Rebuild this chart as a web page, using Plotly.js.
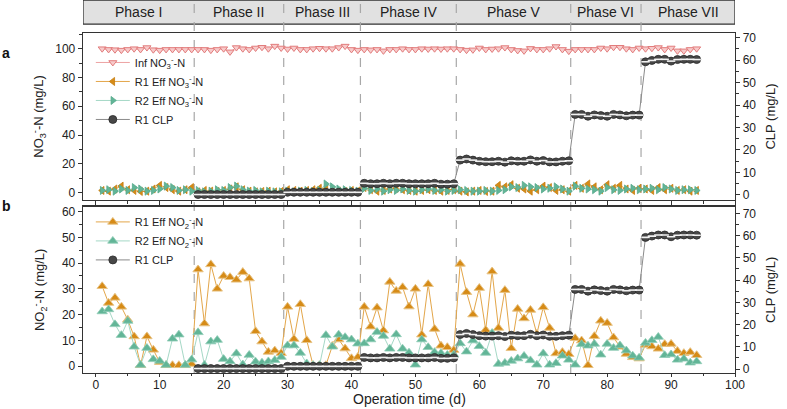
<!DOCTYPE html>
<html><head><meta charset="utf-8">
<script src="https://cdn.plot.ly/plotly-3.0.1.min.js"></script>
<style>html,body{margin:0;padding:0;background:#fff}#chart{width:787px;height:409px}</style>
</head><body><div id="chart"></div>
<script>
const days = [1,2,3,4,5,6,7,8,9,10,11,12,13,14,15,16,17,18,19,20,21,22,23,24,25,26,27,28,29,30,31,32,33,34,35,36,37,38,39,40,41,42,43,44,45,46,47,48,49,50,51,52,53,54,55,56,57,58,59,60,61,62,63,64,65,66,67,68,69,70,71,72,73,74,75,76,77,78,79,80,81,82,83,84,85,86,87,88,89,90,91,92,93,94];
const clpDays = [16,17,18,19,20,21,22,23,24,25,26,27,28,29,30,31,32,33,34,35,36,37,38,39,40,41,42,43,44,45,46,47,48,49,50,51,52,53,54,55,56,57,58,59,60,61,62,63,64,65,66,67,68,69,70,71,72,73,74,75,76,77,78,79,80,81,82,83,84,85,86,87,88,89,90,91,92,93,94];

const infNO3 = [100,99.5,99.3,99,99.5,100,99.5,100.8,99.3,99,99.5,99.5,99.5,99.5,99.5,
  99.5,99.5,99,99.5,100,97.8,100.8,100,99.5,100.5,101,100,101.8,100.5,
  99.8,100.5,99.5,99.5,100,100.3,100,100,100.8,101.8,99.5,99,
  99.5,99.2,99.5,98.5,99.5,99.5,100,99.5,99.5,100,99.8,100,99.8,100,100,
  99.5,99,99.2,100.5,99.5,99.8,100,100.8,99.5,98.8,98.5,100.2,99.5,99.5,100,101.5,99.5,98.3,
  99.5,99.5,99.5,99.5,100.5,100,101,101,100,99.5,100.5,
  100,100.3,100.8,99.5,100.5,98.5,98.5,99.5,100];
const r1NO3 = [1.5,1.0,2.5,4.5,2.0,1.5,0.8,1.0,2.5,5.0,3.5,2.0,1.0,2.0,3.5,
  0.5,1.5,1.0,0.8,1.5,2.5,4.0,2.0,1.0,0.5,0.8,1.0,0.5,0.8,
  2.0,1.5,1.0,1.5,2.0,3.0,2.5,1.5,1.0,0.8,1.5,1.0,
  3.5,2.0,1.0,1.5,2.5,3.0,2.0,1.5,1.0,1.5,2.0,1.5,1.0,1.5,2.0,
  1.0,0.5,1.0,1.5,0.8,1.0,5.0,4.0,5.5,3.0,2.5,1.0,2.0,4.5,3.5,1.5,2.0,1.0,
  5.0,3.0,6.0,4.0,2.0,5.5,3.0,5.0,2.5,1.5,3.0,
  2.5,1.5,3.5,2.0,3.0,1.5,2.0,1.0,1.5];
const r2NO3 = [1.5,2.0,1.0,2.5,1.5,3.5,2.5,1.0,1.5,2.5,4.5,3.5,1.5,2.0,1.0,
  1.5,0.5,1.0,2.0,1.5,3.5,4.5,2.0,1.0,1.5,0.5,1.0,0.5,0.5,
  1.0,0.5,1.0,1.5,0.8,1.5,6.0,4.0,2.5,2.0,1.5,1.0,
  3.0,1.5,2.5,1.0,2.0,1.5,2.5,1.5,1.0,2.0,2.5,1.5,2.0,1.0,1.5,
  2.0,1.5,1.0,1.0,1.5,1.0,1.5,2.0,4.0,3.5,5.0,4.0,3.5,2.5,3.0,4.0,2.5,1.0,
  4.5,3.0,2.5,2.0,1.0,3.5,2.0,1.5,2.5,3.0,2.0,
  2.5,3.0,2.0,3.5,2.5,1.5,2.0,2.0,1.5];
const r1NO2 = [31,24.5,26.5,23,18,11.5,0.3,11.5,6.3,1.5,0.3,0.3,0.3,0.3,0.8,
  37.5,16.5,39.5,30,35,34.5,33.5,36.5,34,13.5,9.5,5.5,6,5,
  23,10.5,24,10,0.3,0.3,0.3,7.8,10.3,6.8,3,3.5,
  23,15.3,22.7,13.8,32.7,29.2,30.6,23.1,30,12.2,31.8,14.4,7.9,7.3,6.2,
  39.7,28.7,20,30.3,14,36.7,14.8,29.5,6.9,22.2,18.5,21.8,12.5,22.8,14.8,4.9,5.4,4.6,
  10.8,9.9,0.3,11.6,17.6,16.7,11.1,7.5,4.7,3.4,2.9,
  8.2,7.6,6.7,8.5,8.6,5.8,5.0,5.4,4.2];
const r2NO2 = [21.2,22,16.2,12,17.5,7.5,0.4,7,2.6,2,0.4,10.6,12.2,0.4,2.5,
  13.1,0.4,9.5,10.1,2.7,1.8,4.9,0.6,4.3,1.7,1.3,1.8,2.3,3.5,
  8,8,5.1,1,0.3,0.3,12,7.5,12.2,11.2,10.3,8.7,
  8.8,10.3,13.2,11.7,6.7,12.3,6.7,5.2,0.5,10.3,7.3,5.4,5.0,4.3,4.4,
  8.8,5.6,9.9,7.7,5.1,12.8,0.8,1.2,2.0,2.9,3.9,2.2,0.5,4.9,0.5,1.1,4.0,2.4,
  0.5,8.5,7.9,8.6,4.4,8.6,7.0,8.0,6.0,4.0,3.2,
  9.0,10.0,11.3,4.2,4.5,2.4,2.8,1.3,1.8];
const clp = [0.2,0.2,0.2,0.2,0.2,0.2,0.2,0.2,0.2,0.2,0.2,0.2,0.2,0.2,
  1.2,1.2,1.2,1.2,1.2,1.2,1.2,1.2,1.2,1.2,1.2,1.2,
  5.2,5.0,5.0,5.2,5.0,5.2,5.2,5.0,5.0,5.0,5.0,5.2,4.8,4.8,5.0,
  15.5,16.0,15.5,15.0,14.8,14.8,15.0,14.6,15.2,15.0,15.0,15.6,15.0,15.3,14.7,14.7,15.0,15.2,
  35.8,35.8,35.0,35.6,35.3,35.0,35.8,35.6,35.2,35.5,35.5,
  59.2,59.8,60.3,60.3,59.5,60.2,60.3,60.3,60.2];

const phaseNames = ['Phase I','Phase II','Phase III','Phase IV','Phase V','Phase VI','Phase VII'];
const phaseBounds = [15.4,29.4,41.4,56.4,74.3,85.3];
const xTickVals = [0,10,20,30,40,50,60,70,80,90,100];

const FONT = 'Liberation Sans, Arial, sans-serif';
const XMIN = -2, XMAX = 100;
const BAR_Y0 = 1.026, BAR_Y1 = 1.097;

const orange = '#d68b17', orangeLine = '#e3a64a';
const teal = '#62b597', tealLine = '#a5d8c6';
const pink = '#e27c7c', pinkLine = '#eda3a3';
const clpCol = '#474747';

function clpTraces(xa, ya, legend, show) {
  return [
    {x: clpDays, y: clp, xaxis: xa, yaxis: ya, type: 'scatter', mode: 'lines+markers', name: 'R1 CLP',
     legend: legend, showlegend: show,
     line: {color: '#8a8a8a', width: 1},
     marker: {symbol: 'circle', size: 8, color: clpCol, line: {color: '#2a2a2a', width: 0.8}}},
    {x: clpDays, y: clp, xaxis: xa, yaxis: ya, type: 'scatter', mode: 'markers', showlegend: false, hoverinfo: 'skip',
     marker: {symbol: 'line-ew', size: 6, color: '#ffffff', line: {color: '#f2f2f2', width: 1.6}}}
  ];
}

const data = [
  {x: days, y: infNO3, xaxis: 'x2', yaxis: 'y', type: 'scatter', mode: 'lines+markers',
   name: 'Inf NO<sub>3</sub><sup>-</sup>-N', legend: 'legend',
   line: {color: pinkLine, width: 1},
   marker: {symbol: 'triangle-down', size: 7, color: '#f7caca', line: {color: pink, width: 1}}},
  {x: days, y: r1NO3, xaxis: 'x2', yaxis: 'y', type: 'scatter', mode: 'lines+markers',
   name: 'R1 Eff NO<sub>3</sub><sup>-</sup>-N', legend: 'legend',
   line: {color: orangeLine, width: 1},
   marker: {symbol: 'triangle-left', size: 7, color: orange, line: {color: '#c57d10', width: 0.8}}},
  {x: days, y: r2NO3, xaxis: 'x2', yaxis: 'y', type: 'scatter', mode: 'lines+markers',
   name: 'R2 Eff NO<sub>3</sub><sup>-</sup>-N', legend: 'legend',
   line: {color: tealLine, width: 1},
   marker: {symbol: 'triangle-right', size: 7, color: teal, line: {color: '#56a98b', width: 0.8}}},
  ...clpTraces('x2', 'y3', 'legend', true),
  {x: days, y: r1NO2, xaxis: 'x', yaxis: 'y2', type: 'scatter', mode: 'lines+markers',
   name: 'R1 Eff NO<sub>2</sub><sup>-</sup>-N', legend: 'legend2',
   line: {color: orangeLine, width: 1},
   marker: {symbol: 'triangle-up', size: 9, color: orange, line: {color: '#e8c486', width: 1}}},
  {x: days, y: r2NO2, xaxis: 'x', yaxis: 'y2', type: 'scatter', mode: 'lines+markers',
   name: 'R2 Eff NO<sub>2</sub><sup>-</sup>-N', legend: 'legend2',
   line: {color: tealLine, width: 1},
   marker: {symbol: 'triangle-up', size: 9, color: teal, line: {color: '#8fcdb6', width: 0.8}}},
  ...clpTraces('x', 'y4', 'legend2', true)
];

const axLine = {showline: true, linecolor: '#333', linewidth: 1.3, zeroline: false, showgrid: false,
  ticks: 'outside', ticklen: 4, tickwidth: 1, tickcolor: '#333',
  tickfont: {family: FONT, size: 12, color: '#222'}};

const shapes = [];
shapes.push({type: 'rect', xref: 'x', yref: 'paper', x0: XMIN, x1: XMAX, y0: BAR_Y0, y1: BAR_Y1,
  fillcolor: '#e1e1e1', line: {color: '#333', width: 1.3}, layer: 'below'});
phaseBounds.forEach(b => shapes.push({type: 'line', xref: 'x', yref: 'paper', x0: b, x1: b, y0: 0, y1: BAR_Y1,
  line: {color: '#a8a8a8', width: 1.2, dash: 'dash'}, layer: 'below'}));

const edges = [XMIN].concat(phaseBounds, [XMAX]);
const annotations = phaseNames.map((t, i) => ({text: t, xref: 'x', yref: 'paper',
  x: (edges[i] + edges[i + 1]) / 2, y: (BAR_Y0 + BAR_Y1) / 2, showarrow: false,
  font: {family: FONT, size: 14, color: '#222'}, xanchor: 'center', yanchor: 'middle'}));
annotations.push({text: '<b>a</b>', xref: 'paper', yref: 'paper', x: -0.118, y: 0.94, showarrow: false,
  font: {family: FONT, size: 14, color: '#111'}, xanchor: 'center', yanchor: 'middle'});
annotations.push({text: '<b>b</b>', xref: 'paper', yref: 'paper', x: -0.118, y: 0.492, showarrow: false,
  font: {family: FONT, size: 14, color: '#111'}, xanchor: 'center', yanchor: 'middle'});
annotations.push({text: 'Operation time (d)', xref: 'paper', yref: 'paper', x: 0.5, y: -0.103, showarrow: false,
  font: {family: FONT, size: 14, color: '#222'}, xanchor: 'center', yanchor: 'bottom', borderpad: 0});

const layout = {
  width: 787, height: 409,
  margin: {l: 83, r: 52, t: 33, b: 36},
  paper_bgcolor: '#ffffff', plot_bgcolor: 'rgba(0,0,0,0)',
  font: {family: FONT, color: '#222'},
  showlegend: true,
  xaxis: Object.assign({}, axLine, {domain: [0, 1], anchor: 'y2', range: [XMIN, XMAX], ticklen: 3,
    ticklabelstandoff: -3,
    tickvals: xTickVals, minor: {dtick: 5, ticks: 'outside', ticklen: 2, tickcolor: '#333'},
    mirror: true}),
  xaxis2: Object.assign({}, axLine, {domain: [0, 1], anchor: 'y', range: [XMIN, XMAX], matches: 'x',
    tickvals: xTickVals, showticklabels: false, mirror: true,
    minor: {dtick: 5, ticks: 'outside', ticklen: 2.5, tickcolor: '#333'}}),
  yaxis: Object.assign({}, axLine, {domain: [0.509, 1], anchor: 'x2', range: [-5.1, 110.9],
    tickvals: [0, 20, 40, 60, 80, 100], minor: {dtick: 10, ticks: 'outside', ticklen: 2.5, tickcolor: '#333'},
    title: {text: 'NO<sub>3</sub><sup>-</sup>-N (mg/L)', font: {family: FONT, size: 13, color: '#222'}, standoff: 8}}),
  yaxis3: Object.assign({}, axLine, {overlaying: 'y', side: 'right', anchor: 'x2', range: [-2.2, 72],
    tickvals: [0, 10, 20, 30, 40, 50, 60, 70], minor: {dtick: 5, ticks: 'outside', ticklen: 2.5, tickcolor: '#333'},
    title: {text: 'CLP (mg/L)', font: {family: FONT, size: 13, color: '#222'}, standoff: 10}}),
  yaxis2: Object.assign({}, axLine, {domain: [0, 0.489], anchor: 'x', range: [-2.7, 61.9],
    tickvals: [0, 10, 20, 30, 40, 50, 60], minor: {dtick: 5, ticks: 'outside', ticklen: 2.5, tickcolor: '#333'},
    title: {text: 'NO<sub>2</sub><sup>-</sup>-N (mg/L)', font: {family: FONT, size: 13, color: '#222'}, standoff: 14}}),
  yaxis4: Object.assign({}, axLine, {overlaying: 'y2', side: 'right', anchor: 'x', range: [-1.8, 73],
    tickvals: [0, 10, 20, 30, 40, 50, 60, 70], minor: {dtick: 5, ticks: 'outside', ticklen: 2.5, tickcolor: '#333'},
    title: {text: 'CLP (mg/L)', font: {family: FONT, size: 13, color: '#222'}, standoff: 10}}),
  legend: {x: 0.012, y: 0.956, xanchor: 'left', yanchor: 'top', bgcolor: 'rgba(0,0,0,0)',
    font: {family: FONT, size: 11, color: '#222'}, tracegroupgap: 0, itemwidth: 34},
  legend2: {x: 0.012, y: 0.487, xanchor: 'left', yanchor: 'top', bgcolor: 'rgba(0,0,0,0)',
    font: {family: FONT, size: 11, color: '#222'}, tracegroupgap: 0, itemwidth: 34},
  shapes: shapes,
  annotations: annotations
};

Plotly.newPlot('chart', data, layout, {displayModeBar: false, staticPlot: true});
</script></body></html>
